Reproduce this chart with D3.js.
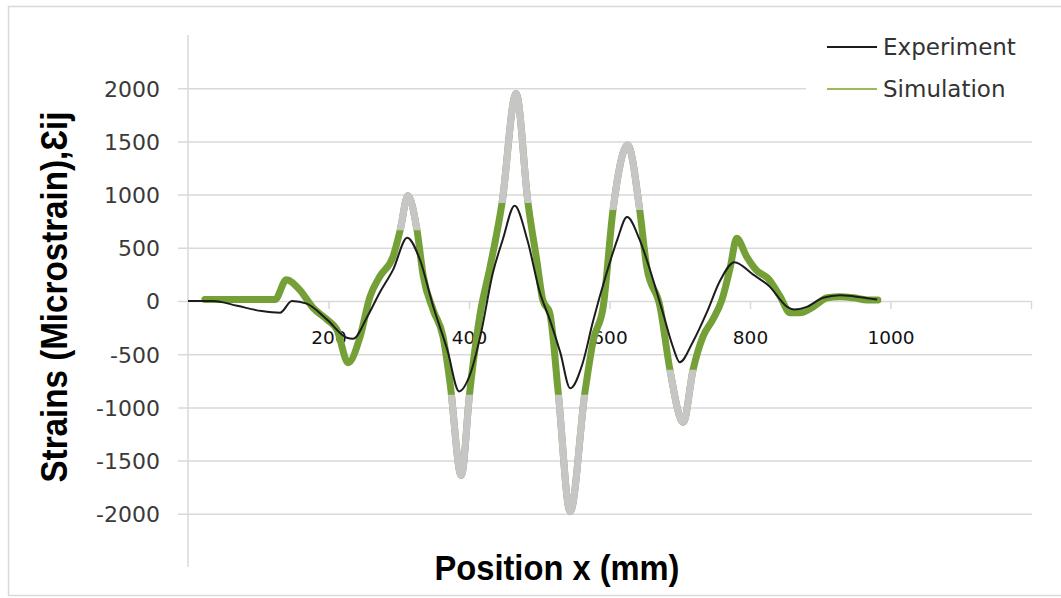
<!DOCTYPE html>
<html>
<head>
<meta charset="utf-8">
<script src="https://cdn.jsdelivr.net/npm/d3@7"></script>
<style>
  body { margin: 0; background: #fff; }
</style>
</head>
<body>
<script>
    var w = 1061;
    var h = 598;

    // experiment (thin black line), position in mm / microstrain
    var expX = [0, 36, 70, 105, 131, 148, 169, 198, 226, 235, 255, 273, 292, 312, 330, 349, 369, 386, 401, 416,
                434, 448, 465, 483, 501, 515, 530, 544, 562, 576, 596, 611, 625, 643, 662, 676, 690, 700, 719, 739,
                757, 778, 804, 828, 853, 863, 881, 904, 928, 947, 967, 981];
    var expY = [0, 0, -45, -95, -110, 0, -25, -175, -345, -355, -150, 80, 295, 595, 390, -50, -455, -850, -700, -335,
                265, 575, 895, 575, 78, -175, -485, -820, -580, -205, 265, 575, 790, 575, 200, -110, -425, -575, -380, -100,
                185, 365, 250, 135, -55, -80, -55, 30, 55, 45, 25, 15];

    // simulation (thick line)
    var simX = [24, 124, 140, 159, 178, 198, 212, 228, 245, 259, 273, 292, 302, 313, 326, 335, 349, 363, 373, 389,
                401, 416, 430, 447, 467, 484, 497, 505, 515, 527, 544, 565, 577, 591, 605, 626, 643, 653, 672, 686,
                705, 719, 733, 747, 760, 772, 781, 795, 809, 826, 843, 857, 871, 890, 910, 928, 947, 967, 982];
    var simY = [15, 15, 200, 105, -65, -175, -270, -580, -335, 40, 230, 420, 665, 990, 665, 230, -85, -335, -770, -1640,
                -860, -115, 320, 920, 1950, 920, 360, 10, -115, -860, -1980, -860, -365, -55, 855, 1465, 855, 320, -55, -645,
                -1140, -645, -335, -175, 10, 320, 590, 420, 290, 210, 40, -110, -110, -55, 30, 40, 30, 10, 10];

    // parts of the simulation curve shown in grey (beyond a cut value, between two positions)
    var greyFrom = [270, 360, 420, 510, 580, 670];
    var greyTo   = [360, 420, 510, 580, 670, 740];
    var greyCut  = [665, -880, 920, -880, 855, -645];

    var yTicks = [-2000, -1500, -1000, -500, 0, 500, 1000, 1500, 2000];
    var xTicks = [200, 400, 600, 800, 1000, 1200];
    var xTickLabels = ["200", "400", "600", "800", "1000", ""];
    var seriesNames = ["Experiment", "Simulation"];

    var expData = expX.map(function(d, i) { return [d, expY[i]]; });
    var simData = simX.map(function(d, i) { return [d, simY[i]]; });

    var xScale = d3.scaleLinear()
        .domain([0, 1200])
        .range([188, 1031]);

    var yScale = d3.scaleLinear()
        .domain([-2500, 2500])
        .range([567, 35]);

    var svg = d3.select("body")
        .append("svg")
        .attr("width", w)
        .attr("height", h);

    // outer frame
    svg.append("rect")
        .attr("x", 8.5)
        .attr("y", 6.5)
        .attr("width", 1100)
        .attr("height", 589)
        .attr("fill", "#fff")
        .attr("stroke", "#d9d9d9")
        .attr("stroke-width", 1.5);

    // y axis with gridlines
    var yAxis = d3.axisLeft(yScale)
        .tickValues(yTicks)
        .tickSizeInner(-(1032 - 188))
        .tickSizeOuter(0)
        .tickFormat(function(d) { return String(d); });

    var gy = svg.append("g")
        .attr("transform", "translate(188,0)")
        .call(yAxis);
    gy.select(".domain").remove();
    gy.selectAll(".tick line")
        .attr("x1", -10)
        .attr("stroke", "#d9d9d9")
        .attr("stroke-width", 1.5);
    gy.selectAll(".tick text")
        .attr("x", -28)
        .attr("dy", "0.36em")
        .attr("fill", "#3a3a3a")
        .style("font-family", "DejaVu Sans")
        .style("font-size", "22px");

    svg.append("line")
        .attr("x1", 188).attr("x2", 188)
        .attr("y1", yScale(2500)).attr("y2", yScale(-2500))
        .attr("stroke", "#d9d9d9")
        .attr("stroke-width", 1.5);

    // x axis on the zero line
    var xAxis = d3.axisBottom(xScale)
        .tickValues(xTicks)
        .tickSize(8)
        .tickFormat(function(d, i) { return xTickLabels[i]; });

    var gx = svg.append("g")
        .attr("transform", "translate(0," + yScale(0) + ")")
        .call(xAxis);
    gx.select(".domain").remove();
    gx.selectAll(".tick line")
        .attr("stroke", "#d9d9d9")
        .attr("stroke-width", 1.5);
    gx.selectAll(".tick text")
        .attr("y", 43)
        .attr("dy", 0)
        .attr("fill", "#111")
        .style("font-family", "DejaVu Sans")
        .style("font-size", "18.5px");

    // legend box covers the gridline ends
    svg.append("rect")
        .attr("x", 806)
        .attr("y", 24)
        .attr("width", 240)
        .attr("height", 88)
        .attr("fill", "#fff");

    var line = d3.line()
        .x(function(d) { return xScale(d[0]); })
        .y(function(d) { return yScale(d[1]); })
        .curve(d3.curveMonotoneX);

    // grey clip zones
    var clip = svg.append("defs").append("clipPath").attr("id", "greyclip");
    clip.selectAll("rect")
        .data(greyCut)
        .enter()
        .append("rect")
        .attr("x", function(d, i) { return xScale(greyFrom[i]); })
        .attr("width", function(d, i) { return xScale(greyTo[i]) - xScale(greyFrom[i]); })
        .attr("y", function(d) { return d > 0 ? 0 : yScale(d); })
        .attr("height", function(d) { return d > 0 ? yScale(d) : h - yScale(d); });

    svg.append("path")
        .datum(simData)
        .attr("d", line)
        .attr("fill", "none")
        .attr("stroke", "#74a037")
        .attr("stroke-width", 7)
        .attr("stroke-linecap", "round")
        .attr("stroke-linejoin", "round");

    svg.append("path")
        .datum(simData)
        .attr("d", line)
        .attr("clip-path", "url(#greyclip)")
        .attr("fill", "none")
        .attr("stroke", "#c6c6c6")
        .attr("stroke-width", 7)
        .attr("stroke-linejoin", "round");

    svg.append("path")
        .datum(expData)
        .attr("d", line)
        .attr("fill", "none")
        .attr("stroke", "#1c1c1c")
        .attr("stroke-width", 2);

    // legend
    var legendColors = ["#1c1c1c", "#9bbb59"];
    var legend = svg.selectAll(".legend")
        .data(seriesNames)
        .enter()
        .append("g")
        .attr("class", "legend")
        .attr("transform", function(d, i) { return "translate(827," + (47 + i * 42) + ")"; });

    legend.append("line")
        .attr("x1", 0).attr("x2", 50)
        .attr("stroke", function(d, i) { return legendColors[i]; })
        .attr("stroke-width", 2);

    legend.append("text")
        .attr("x", 56)
        .attr("y", 8)
        .text(function(d) { return d; })
        .attr("fill", "#333")
        .style("font-family", "DejaVu Sans")
        .style("font-size", "23px");

    // X axis label
    svg.append("text")
        .attr("text-anchor", "middle")
        .attr("x", 557)
        .attr("y", 580)
        .attr("textLength", 245)
        .attr("lengthAdjust", "spacingAndGlyphs")
        .text("Position x (mm)")
        .style("font-family", "Liberation Sans, Arial, sans-serif")
        .style("font-size", "35px")
        .style("font-weight", "bold");

    // Y axis label
    svg.append("text")
        .attr("text-anchor", "middle")
        .attr("transform", "translate(67,297) rotate(-90)")
        .attr("textLength", 371)
        .attr("lengthAdjust", "spacingAndGlyphs")
        .text("Strains (Microstrain),Ɛij")
        .style("font-family", "Liberation Sans, Arial, sans-serif")
        .style("font-size", "36px")
        .style("font-weight", "bold");
</script>
</body>
</html>
